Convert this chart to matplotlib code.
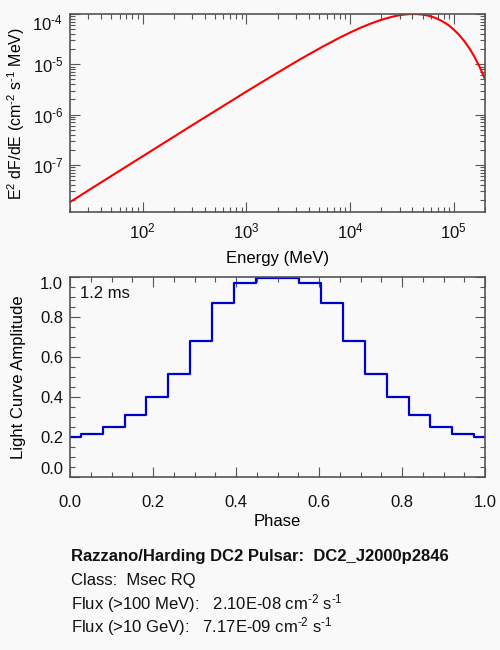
import matplotlib
matplotlib.use("Agg")
import math
import matplotlib.pyplot as plt
from matplotlib.ticker import LogLocator, MultipleLocator, NullFormatter, FixedLocator, FuncFormatter

plt.rcParams['font.family'] = ['Liberation Sans', 'DejaVu Sans']
plt.rcParams['mathtext.fontset'] = 'custom'
plt.rcParams['mathtext.rm'] = 'Liberation Sans'
plt.rcParams['mathtext.it'] = 'Liberation Sans'

# Spectrum
energy = [20, 31.6, 100, 316, 1000, 1778, 3162, 3981, 5623, 7943, 10000, 12590,
          15850, 19950, 25120, 28180, 31620, 35480, 39810, 44670, 50120, 56230,
          63100, 70790, 79430, 89130, 100000, 112200, 125900, 141300, 158500,
          177800, 199500]
e2dfde = [1.81e-8, 3.30e-8, 1.47e-7, 6.52e-7, 2.85e-6, 5.87e-6, 1.19e-5, 1.56e-5,
          2.32e-5, 3.38e-5, 4.27e-5, 5.31e-5, 6.45e-5, 7.64e-5, 8.75e-5, 9.23e-5,
          9.60e-5, 9.87e-5, 1.00e-4, 9.95e-5, 9.73e-5, 9.31e-5, 8.69e-5, 7.91e-5,
          6.98e-5, 5.97e-5, 4.91e-5, 3.87e-5, 2.91e-5, 2.08e-5, 1.40e-5, 8.81e-6,
          5.13e-6]

# Light curve
phase = [i / 19 for i in range(20)]
amp = [0.198, 0.213, 0.248, 0.308, 0.398, 0.515, 0.678, 0.868, 0.968, 0.997,
       0.997, 0.968, 0.868, 0.678, 0.515, 0.398, 0.308, 0.248, 0.213, 0.198]

bg = '#f9f9f9'
axc = '#555555'
txtc = '#111111'
fs = 12
fig = plt.figure(figsize=(5, 6.5), dpi=100, facecolor=bg)

ax1 = fig.add_axes([0.14, 1 - 212 / 650, 0.83, 198 / 650], facecolor=bg)
ax1.plot(energy, e2dfde, color='#ff0000', lw=1.5)
ax1.set_xscale('log')
ax1.set_yscale('log')
ax1.set_xlim(20, 2e5)
ax1.set_ylim(1.15e-8, 1e-4)
ax1.xaxis.set_major_locator(FixedLocator([1e2, 1e3, 1e4, 1e5]))
ax1.yaxis.set_major_locator(FixedLocator([1e-7, 1e-6, 1e-5, 1e-4]))
ax1.xaxis.set_minor_locator(LogLocator(base=10, subs=range(2, 10), numticks=20))
ax1.yaxis.set_minor_locator(LogLocator(base=10, subs=range(2, 10), numticks=20))
ax1.xaxis.set_minor_formatter(NullFormatter())
ax1.yaxis.set_minor_formatter(NullFormatter())


def logfmt(v, p):
    e = int(round(math.log10(v)))
    if e < 0:
        return r'10$^{\text{-%d}}$' % (-e)
    return r'10$^{%d}$' % e


ax1.xaxis.set_major_formatter(FuncFormatter(logfmt))
ax1.yaxis.set_major_formatter(FuncFormatter(logfmt))
ax1.set_xlabel('Energy (MeV)', fontsize=fs)
ax1.set_ylabel(r'E$^{2}$ dF/dE (cm$^{\text{-2}}$ s$^{\text{-1}}$ MeV)', fontsize=11.5)
ax1.xaxis.set_label_coords(0.5, -(258 - 212) / 198)
ax1.xaxis.label.set_va('center')
ax1.yaxis.set_label_coords(-(70 - 16) / 415, 0.5)
ax1.yaxis.label.set_va('center')

ax2 = fig.add_axes([0.14, 1 - 477 / 650, 0.83, 200 / 650], facecolor=bg)
ax2.step(phase, amp, where='mid', color='#0000cc', lw=1.6)
ax2.set_xlim(0, 1)
ax2.set_ylim(0, 1.0)
ax2.xaxis.set_major_locator(MultipleLocator(0.2))
ax2.xaxis.set_minor_locator(MultipleLocator(0.05))
ax2.yaxis.set_major_locator(MultipleLocator(0.2))
ax2.yaxis.set_minor_locator(MultipleLocator(0.05))
ax2.xaxis.set_major_formatter(FuncFormatter(lambda v, p: f'{v:.1f}'))
ax2.yaxis.set_major_formatter(FuncFormatter(lambda v, p: f'{v:.1f}'))
ax2.set_xlabel('Phase', fontsize=fs)
ax2.set_ylabel('Light Curve Amplitude', fontsize=fs)
ax2.xaxis.set_label_coords(0.5, -(522 - 477) / 200)
ax2.xaxis.label.set_va('center')
ax2.yaxis.set_label_coords(-(70 - 19) / 415, 0.5)
ax2.yaxis.label.set_va('center')
ax2.text(0.025, 0.955, '1.2 ms', transform=ax2.transAxes, fontsize=fs,
         va='top', ha='left', color=txtc)

for ax in (ax1, ax2):
    for s in ax.spines.values():
        s.set_color(axc)
        s.set_linewidth(1.2)
    ax.tick_params(which='both', direction='in', top=True, right=True,
                   colors=axc, labelcolor=txtc, labelsize=fs)
    ax.tick_params(which='major', length=7, width=0.8)
    ax.tick_params(which='minor', length=3.5, width=0.8)
    ax.tick_params(axis='y', which='major', pad=5)
ax1.tick_params(axis='x', which='major', pad=7)
ax2.tick_params(axis='x', which='major', pad=13)

fig.canvas.draw()
for lab in ax2.get_yticklabels():
    if lab.get_text() == '0.0':
        lab.set_va('bottom')
    elif lab.get_text() == '1.0':
        lab.set_va('top')
ylabs1 = ax1.get_yticklabels()
if ylabs1:
    ylabs1[-1].set_va('top')

fig.text(0.142, 1 - 556 / 650, 'Razzano/Harding DC2 Pulsar:  DC2_J2000p2846',
         fontsize=fs, fontweight='bold', va='center', ha='left', color=txtc)
fig.text(0.142, 1 - 580 / 650, 'Class:  Msec RQ', fontsize=fs, va='center',
         ha='left', color=txtc)
fig.text(0.142, 1 - 604 / 650,
         r'Flux (>100 MeV):   2.10E-08 cm$^{\text{-2}}$ s$^{\text{-1}}$', fontsize=fs,
         va='center', ha='left', color=txtc)
fig.text(0.142, 1 - 627 / 650,
         r'Flux (>10 GeV):   7.17E-09 cm$^{\text{-2}}$ s$^{\text{-1}}$', fontsize=fs,
         va='center', ha='left', color=txtc)

fig.savefig('out.png', dpi=100, facecolor=bg)
